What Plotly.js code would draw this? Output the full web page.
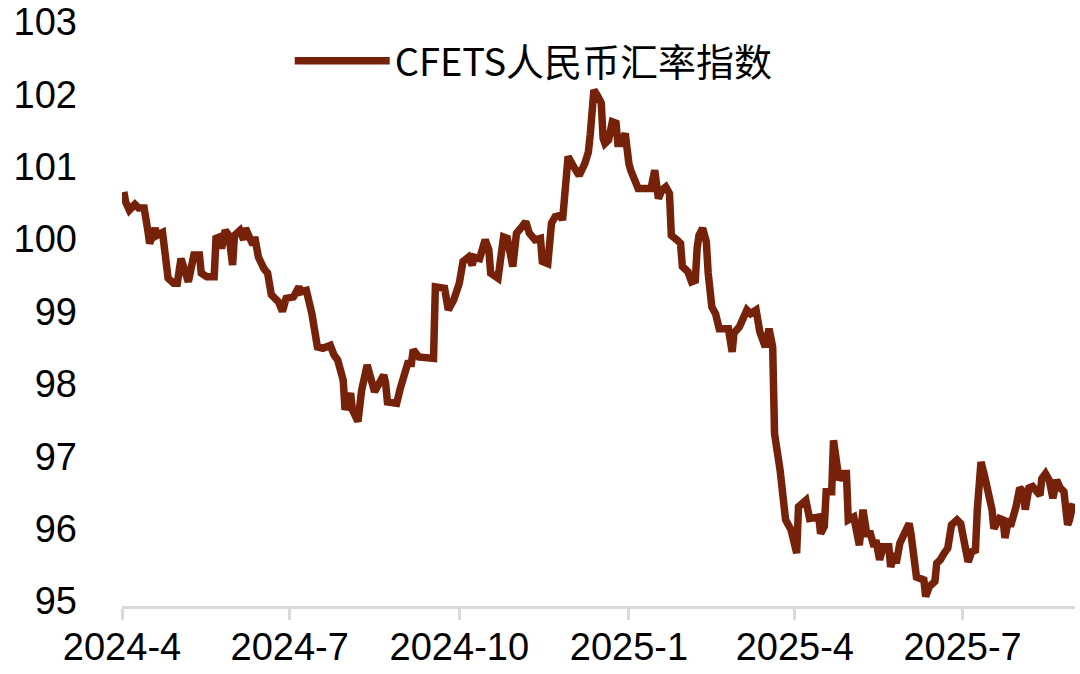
<!DOCTYPE html>
<html>
<head>
<meta charset="utf-8">
<script src="https://cdn.plot.ly/plotly-3.0.1.min.js"></script>
<style>
  html, body { margin: 0; padding: 0; background: #fff; }
  #chart { width: 1080px; height: 674px; }
</style>
</head>
<body>
<div id="chart"></div>
<script>
// CFETS RMB index
var seriesName = 'CFETS人民币汇率指数';

var dates = [
  '2024-04-02','2024-04-03','2024-04-05','2024-04-08','2024-04-10','2024-04-13','2024-04-15','2024-04-16','2024-04-19','2024-04-20',
  '2024-04-23','2024-04-26','2024-04-29','2024-05-01','2024-05-03','2024-05-05','2024-05-07','2024-05-10','2024-05-13','2024-05-14',
  '2024-05-17','2024-05-21','2024-05-22','2024-05-24','2024-05-25','2024-05-27','2024-05-29','2024-05-31','2024-06-01','2024-06-04',
  '2024-06-06','2024-06-07','2024-06-09','2024-06-11','2024-06-12','2024-06-14','2024-06-17','2024-06-19','2024-06-21','2024-06-25',
  '2024-06-27','2024-06-29','2024-07-03','2024-07-06','2024-07-07','2024-07-10','2024-07-13','2024-07-16','2024-07-19','2024-07-23',
  '2024-07-25','2024-07-27','2024-07-30','2024-07-31','2024-08-03','2024-08-04','2024-08-07','2024-08-09','2024-08-12','2024-08-14',
  '2024-08-16','2024-08-21','2024-08-22','2024-08-23','2024-08-28','2024-08-30','2024-09-03','2024-09-05','2024-09-06','2024-09-09',
  '2024-09-17','2024-09-18','2024-09-20','2024-09-23','2024-09-25','2024-09-28','2024-10-01','2024-10-03','2024-10-06','2024-10-08',
  '2024-10-09','2024-10-12','2024-10-15','2024-10-17','2024-10-18','2024-10-22','2024-10-25','2024-10-27','2024-10-30','2024-11-01',
  '2024-11-04','2024-11-06','2024-11-08','2024-11-11','2024-11-14','2024-11-15','2024-11-18','2024-11-20','2024-11-22','2024-11-25',
  '2024-11-26','2024-11-29','2024-12-02','2024-12-04','2024-12-05','2024-12-08','2024-12-10','2024-12-11','2024-12-12','2024-12-13',
  '2024-12-15','2024-12-17','2024-12-18','2024-12-19','2024-12-21','2024-12-23','2024-12-25','2024-12-26','2024-12-28','2024-12-30',
  '2025-01-01','2025-01-02','2025-01-06','2025-01-13','2025-01-15','2025-01-17','2025-01-19','2025-01-21','2025-01-23','2025-01-24',
  '2025-01-27','2025-01-29','2025-01-30','2025-02-02','2025-02-04','2025-02-06','2025-02-07','2025-02-08','2025-02-10','2025-02-12',
  '2025-02-13','2025-02-15','2025-02-17','2025-02-19','2025-02-24','2025-02-26','2025-02-27','2025-03-02','2025-03-06','2025-03-08',
  '2025-03-11','2025-03-13','2025-03-16','2025-03-18','2025-03-20','2025-03-21','2025-03-24','2025-03-26','2025-03-27','2025-03-30',
  '2025-04-02','2025-04-03','2025-04-05','2025-04-07','2025-04-09','2025-04-14','2025-04-15','2025-04-17','2025-04-18','2025-04-21',
  '2025-04-22','2025-04-24','2025-04-25','2025-04-27','2025-04-29','2025-04-30','2025-05-03','2025-05-06','2025-05-08','2025-05-10',
  '2025-05-12','2025-05-14','2025-05-15','2025-05-17','2025-05-19','2025-05-22','2025-05-23','2025-05-25','2025-05-26','2025-05-28',
  '2025-06-02','2025-06-03','2025-06-06','2025-06-10','2025-06-11','2025-06-13','2025-06-16','2025-06-17','2025-06-19','2025-06-21',
  '2025-06-23','2025-06-25','2025-06-28','2025-06-30','2025-07-02','2025-07-04','2025-07-06','2025-07-08','2025-07-09','2025-07-10',
  '2025-07-11','2025-07-13','2025-07-16','2025-07-17','2025-07-18','2025-07-21','2025-07-23','2025-07-24','2025-07-26','2025-07-27',
  '2025-07-30','2025-08-01','2025-08-03','2025-08-04','2025-08-06','2025-08-08','2025-08-12','2025-08-13','2025-08-15','2025-08-17',
  '2025-08-19','2025-08-21','2025-08-23','2025-08-25','2025-08-27','2025-08-28','2025-08-30'
];

var index = [
  100.72,100.58,100.47,100.55,100.50,100.50,100.19,100.01,100.22,100.12,
  100.16,99.53,99.46,99.46,99.80,99.62,99.48,99.85,99.85,99.60,
  99.55,99.55,100.08,100.10,99.94,100.19,100.12,99.71,100.12,100.19,
  100.06,100.22,100.10,99.99,100.10,99.82,99.66,99.60,99.30,99.20,
  99.07,99.25,99.27,99.41,99.34,99.36,99.04,98.58,98.56,98.60,
  98.47,98.40,98.12,97.71,97.94,97.71,97.55,97.98,98.33,98.10,
  97.96,98.19,98.08,97.82,97.80,98.01,98.35,98.35,98.54,98.44,
  98.42,99.41,99.41,99.39,99.09,99.23,99.46,99.76,99.82,99.71,
  99.82,99.80,100.06,99.92,99.60,99.53,100.10,100.08,99.69,100.15,
  100.24,100.31,100.15,100.06,100.08,99.76,99.73,100.29,100.38,100.40,
  100.33,101.21,101.07,100.98,100.95,101.11,101.27,101.51,101.85,102.13,
  102.05,101.95,101.46,101.39,101.44,101.69,101.67,101.39,101.39,101.53,
  101.11,101.02,100.77,100.77,101.02,100.63,100.75,100.79,100.70,100.12,
  100.06,100.01,99.69,99.62,99.48,99.50,99.94,100.12,100.22,100.03,
  99.60,99.13,99.04,98.83,98.83,98.51,98.77,98.86,99.09,99.04,
  99.09,98.79,98.58,98.83,98.58,97.38,96.88,96.50,96.19,96.05,
  95.73,96.37,96.42,96.46,96.21,96.23,96.00,96.10,96.58,96.58,
  97.29,96.97,96.74,96.83,96.83,96.19,96.23,95.84,96.33,96.00,
  96.00,95.82,95.91,95.64,95.82,95.82,95.54,95.73,95.59,95.87,
  96.14,96.00,95.40,95.36,95.13,95.27,95.34,95.59,95.64,95.73,
  95.80,96.12,96.19,96.14,95.82,95.61,95.75,95.77,96.33,96.69,
  96.99,96.79,96.46,96.33,96.07,96.21,96.19,95.94,96.21,96.10,
  96.37,96.63,96.58,96.33,96.63,96.65,96.53,96.76,96.83,96.74,
  96.49,96.74,96.63,96.58,96.12,96.19,96.42
];

var tickDates = ['2024-04-01','2024-07-01','2024-10-01','2025-01-01','2025-04-01','2025-07-01'];
var tickLabels = ['2024-4','2024-7','2024-10','2025-1','2025-4','2025-7'];

var lineColor = '#76220A';
var axisGrey = '#d9d9d9';

var data = [{
  x: dates,
  y: index,
  name: seriesName,
  type: 'scatter',
  mode: 'lines',
  line: {color: lineColor, width: 7.5},
  hoverinfo: 'x+y'
}];

var layout = {
  width: 1080,
  height: 674,
  margin: {l: 122, r: 5, t: 27, b: 68},
  paper_bgcolor: '#fff',
  plot_bgcolor: '#fff',
  font: {family: 'Liberation Sans, Arial, sans-serif', size: 38, color: '#000'},
  showlegend: true,
  legend: {
    x: 0.176, y: 0.941, xanchor: 'left', yanchor: 'middle',
    bgcolor: 'rgba(0,0,0,0)',
    itemwidth: 95,
    font: {family: 'Noto Sans CJK SC, sans-serif', size: 38, color: '#000'}
  },
  xaxis: {
    type: 'date',
    range: ['2024-04-01', '2025-08-31'],
    tickvals: tickDates,
    ticktext: tickLabels,
    showgrid: false,
    zeroline: false,
    showline: true,
    linecolor: axisGrey,
    linewidth: 3,
    ticks: 'outside',
    ticklen: 11,
    tickwidth: 3,
    tickcolor: axisGrey,
    ticklabelstandoff: -6,
    tickfont: {family: 'Liberation Sans, Arial, sans-serif', size: 38, color: '#000'}
  },
  yaxis: {
    range: [95, 103],
    dtick: 1,
    showgrid: false,
    zeroline: false,
    showline: false,
    ticks: '',
    ticklabelstandoff: 44,
    ticklabelshift: -5,
    tickfont: {family: 'Liberation Sans, Arial, sans-serif', size: 38, color: '#000'}
  }
};

Plotly.newPlot('chart', data, layout, {displayModeBar: false, staticPlot: true});
</script>
</body>
</html>
